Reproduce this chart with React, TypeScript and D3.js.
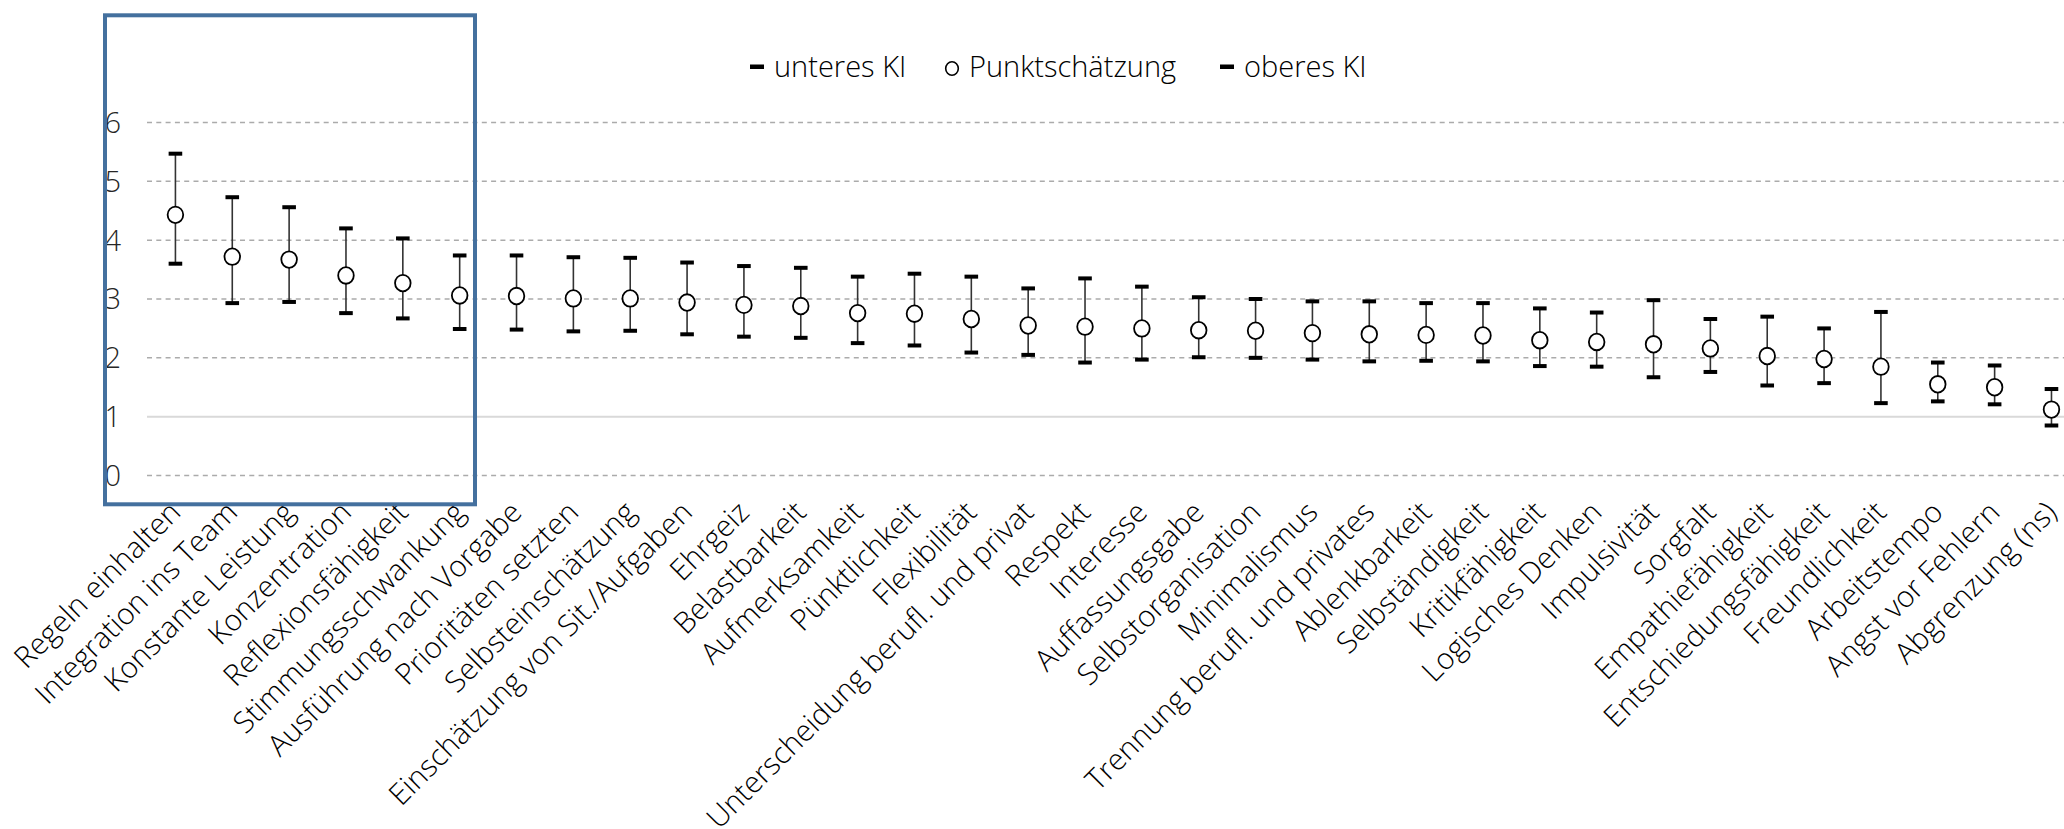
import React from "react";
import * as d3 from "d3";

const categories: string[] = [
  "Regeln einhalten",
  "Integration ins Team",
  "Konstante Leistung",
  "Konzentration",
  "Reflexionsfähigkeit",
  "Stimmungsschwankung",
  "Ausführung nach Vorgabe",
  "Prioritäten setzten",
  "Selbsteinschätzung",
  "Einschätzung von Sit./Aufgaben",
  "Ehrgeiz",
  "Belastbarkeit",
  "Aufmerksamkeit",
  "Pünktlichkeit",
  "Flexibilität",
  "Unterscheidung berufl. und privat",
  "Respekt",
  "Interesse",
  "Auffassungsgabe",
  "Selbstorganisation",
  "Minimalismus",
  "Trennung berufl. und privates",
  "Ablenkbarkeit",
  "Selbständigkeit",
  "Kritikfähigkeit",
  "Logisches Denken",
  "Impulsivität",
  "Sorgfalt",
  "Empathiefähigkeit",
  "Entschiedungsfähigkeit",
  "Freundlichkeit",
  "Arbeitstempo",
  "Angst vor Fehlern",
  "Abgrenzung (ns)",
];

// unteres KI
const lowerCI: number[] = [
  3.6, 2.93, 2.95, 2.76, 2.67, 2.49, 2.48, 2.45, 2.46, 2.4,
  2.36, 2.34, 2.25, 2.21, 2.09, 2.05, 1.92, 1.97, 2.01, 2.0,
  1.97, 1.94, 1.95, 1.94, 1.86, 1.85, 1.67, 1.76, 1.53, 1.57,
  1.23, 1.26, 1.21, 0.85,
];

// Punktschätzung
const pointEstimate: number[] = [
  4.43, 3.72, 3.67, 3.4, 3.27, 3.06, 3.05, 3.01, 3.01, 2.94,
  2.9, 2.88, 2.76, 2.75, 2.66, 2.55, 2.53, 2.5, 2.47, 2.46,
  2.42, 2.4, 2.39, 2.38, 2.3, 2.27, 2.23, 2.16, 2.03, 1.98,
  1.85, 1.55, 1.5, 1.12,
];

// oberes KI
const upperCI: number[] = [
  5.47, 4.73, 4.56, 4.2, 4.03, 3.74, 3.74, 3.71, 3.7, 3.62,
  3.56, 3.53, 3.38, 3.43, 3.38, 3.18, 3.35, 3.21, 3.03, 3.0,
  2.96, 2.96, 2.93, 2.93, 2.84, 2.77, 2.98, 2.66, 2.7, 2.5,
  2.78, 1.92, 1.87, 1.47,
];

const yTicks: number[] = [0, 1, 2, 3, 4, 5, 6];

const legendItems: { label: string; kind: "dash" | "circle" }[] = [
  { label: "unteres KI", kind: "dash" },
  { label: "Punktschätzung", kind: "circle" },
  { label: "oberes KI", kind: "dash" },
];

const W = 2064;
const H = 829;
const FONT = "'Open Sans', 'Noto Sans', sans-serif";

export default function App() {
  const x = d3
    .scaleBand<string>()
    .domain(categories)
    .range([147, 147 + categories.length * 56.85])
    .paddingInner(0)
    .paddingOuter(0);
  const y = d3.scaleLinear().domain([0, 6]).range([475.5, 122.5]);
  const cx = (c: string) => (x(c) as number) + x.bandwidth() / 2;

  const legendX = [750, 945, 1220];

  return (
    <svg
      width={W}
      height={H}
      viewBox={`0 0 ${W} ${H}`}
      style={{ position: "absolute", left: 0, top: 0, display: "block", background: "#fff" }}
      fontFamily={FONT}
    >
      <rect x={0} y={0} width={W} height={H} fill="#fff" />

      {/* horizontal gridlines; the category axis crosses at 1 */}
      <g>
        {yTicks.map((t) => (
          <line
            key={t}
            x1={147}
            x2={W}
            y1={y(t)}
            y2={y(t)}
            stroke={t === 1 ? "#d9d9d9" : "#ababab"}
            strokeWidth={t === 1 ? 2 : 1.5}
            strokeDasharray={t === 1 ? undefined : "5 4.3"}
          />
        ))}
      </g>

      {/* y tick labels */}
      <g>
        {yTicks.map((t) => (
          <text
            key={t}
            x={121}
            y={y(t)}
            dy="0.36em"
            textAnchor="end"
            fontSize={29}
            fontWeight={300}
            fill="#262626"
          >
            {t}
          </text>
        ))}
      </g>

      {/* confidence intervals with point estimates */}
      <g>
        {categories.map((c, i) => {
          const xc = cx(c);
          return (
            <g key={c}>
              <line
                x1={xc}
                x2={xc}
                y1={y(lowerCI[i])}
                y2={y(upperCI[i])}
                stroke="#333"
                strokeWidth={1.6}
              />
              <rect x={xc - 6.8} y={y(lowerCI[i]) - 2} width={13.6} height={4} fill="#000" />
              <rect x={xc - 6.8} y={y(upperCI[i]) - 2} width={13.6} height={4} fill="#000" />
              <ellipse
                cx={xc}
                cy={y(pointEstimate[i])}
                rx={7.8}
                ry={8.3}
                fill="#fff"
                stroke="#000"
                strokeWidth={1.8}
              />
            </g>
          );
        })}
      </g>

      {/* category labels */}
      <g>
        {categories.map((c) => {
          const ax = cx(c) + 7;
          const ay = 514;
          return (
            <text
              key={c}
              x={ax}
              y={ay}
              textAnchor="end"
              fontSize={29.5}
              fontWeight={300}
              fill="#000"
              transform={`rotate(-45 ${ax} ${ay})`}
            >
              {c}
            </text>
          );
        })}
      </g>

      {/* legend */}
      <g>
        {legendItems.map((item, i) => {
          const lx = legendX[i];
          return (
            <g key={item.label}>
              {item.kind === "dash" ? (
                <rect x={lx} y={64.5} width={14} height={4.5} fill="#000" />
              ) : (
                <ellipse cx={lx + 7} cy={68.5} rx={6.3} ry={6.8} fill="#fff" stroke="#000" strokeWidth={1.6} />
              )}
              <text x={lx + 24} y={77} fontSize={29} fontWeight={300} fill="#000">
                {item.label}
              </text>
            </g>
          );
        })}
      </g>

      {/* highlight frame */}
      <rect x={105} y={15.3} width={370} height={489} fill="none" stroke="#44709e" strokeWidth={4} />
    </svg>
  );
}
